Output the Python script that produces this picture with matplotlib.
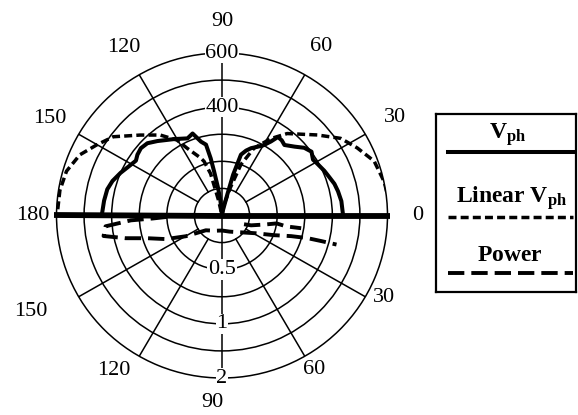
import numpy as np
import matplotlib
matplotlib.use('Agg')
import matplotlib.pyplot as plt

plt.rcParams['font.family'] = ['Liberation Serif', 'DejaVu Serif']
plt.rcParams['mathtext.fontset'] = 'custom'
plt.rcParams['mathtext.rm'] = 'Liberation Serif'
plt.rcParams['mathtext.bf'] = 'Liberation Serif:bold'
plt.rcParams['mathtext.it'] = 'Liberation Serif:italic'

# upper half: phase velocity (V), angle in degrees
vph_angle = [0, 7, 12, 16, 20, 24, 30, 32, 36, 40, 44, 49, 52, 55, 57, 60, 63, 67, 70, 73,
             75, 76, 80, 85, 90, 95, 96, 98, 100, 101, 102.5, 105.6, 109.4, 113.7, 121.5,
             130.4, 135.4, 139.8, 143.8, 147, 151.6, 156.8, 162.2, 166.9, 172.7, 180]
vph_volts = [439, 436, 430, 424, 414, 406, 393, 389, 401, 389, 366, 345, 352, 354, 326, 299, 285, 270, 255, 235,
             156, 81, 20, 5, 0, 10, 55, 103, 166, 215, 268, 283, 321, 311, 331,
             361, 380, 385, 380, 372, 383, 400, 417, 427, 431, 436]

lin_angle = [0, 5, 12, 20, 27, 33.5, 40.7, 52, 58, 65, 70, 73.6, 80, 90,
             102.5, 105, 108, 110, 117, 120.4, 127, 135, 143.6, 150.2, 156.5, 163.8, 171, 180]
lin_volts = [606, 608, 601, 587, 550, 516, 456, 384, 335, 274, 200, 107, 40, 0,
             56, 160, 210, 226, 279, 323, 372, 420, 490, 524, 562, 587, 595, 598]

# lower half: power (log scale, 0.5 / 1 / 2), angle measured below the axis
pow_angle = [178.5, 177.5, 176.9, 174.6, 170, 166.5, 162.7, 156.8, 149.7, 137, 115, 90, 65,
             42, 28, 21, 16.9, 15.1, 14.7, 14.5]
pow_value = [0.500, 0.596, 0.787, 1.087, 1.133, 0.868, 0.665, 0.538, 0.423, 0.330, 0.310, 0.303, 0.314,
             0.345, 0.406, 0.505, 0.620, 0.758, 0.908, 1.105]
pow2_angle = [22, 19, 12, 8.4, 9.8, 9.3]
pow2_value = [0.337, 0.368, 0.435, 0.500, 0.566, 0.685]

upper_ticks = [400, 600]
lower_ticks = [0.5, 1, 2]
upper_angles = [0, 30, 60, 90, 120, 150, 180]
lower_angles = [30, 60, 90, 120, 150]


def v_to_r(v):
    return np.asarray(v, dtype=float) / 100.0


def p_to_r(p):
    return 4 + 2 * np.log2(np.asarray(p, dtype=float))


fig = plt.figure(figsize=(5.78, 4.15), dpi=100)
ax = fig.add_axes([56.5 / 578, 37 / 415, 331 / 578, 325 / 415], projection='polar')
ax.set_aspect('auto')
ax.set_ylim(0, 6)
ax.set_yticks(range(1, 6))
ax.set_yticklabels([])
ax.set_xticks([])
ax.yaxis.grid(True, color='black', lw=1.1, ls='-')
ax.xaxis.grid(False)
ax.spines['polar'].set_linewidth(1.1)

# spokes
for a in [30, 60, 120, 150, -30, -60, -120, -150]:
    t = np.deg2rad(a)
    ax.plot([t, t], [1, 6], color='black', lw=1.1, zorder=2)
for a in [90, -90]:
    t = np.deg2rad(a)
    ax.plot([t, t], [0, 6], color='black', lw=1.1, zorder=2)

# thick 0-180 axis
ax.plot([np.pi, np.pi, 0, 0], [6.1, 0, 0, 6.1], color='black', lw=4.2,
        solid_capstyle='butt', zorder=6, clip_on=False)

# curves
ax.plot(np.deg2rad(vph_angle), v_to_r(vph_volts), color='black', lw=2.9, zorder=4)
ax.plot(np.deg2rad(lin_angle), v_to_r(lin_volts), color='black', lw=2.5,
        dashes=(2.3, 1.2), zorder=4)
ax.plot(-np.deg2rad(pow_angle), p_to_r(pow_value), color='black', lw=2.8,
        dashes=(4.2, 1.8), zorder=4)
ax.plot(-np.deg2rad(pow2_angle), p_to_r(pow2_value), color='black', lw=2.8,
        dashes=(4.2, 1.8), zorder=4)

# radial labels
lab_box = dict(facecolor='white', edgecolor='none', pad=0.5)
for v in upper_ticks:
    ax.text(np.pi / 2, v_to_r(v), str(v), ha='center', va='center', fontsize=16,
            bbox=lab_box, zorder=7)
for p in lower_ticks:
    ax.text(-np.pi / 2, p_to_r(p), f'{p:g}', ha='center', va='center', fontsize=16,
            bbox=lab_box, zorder=7)

# angle labels
upper_pos = {0: (0, 7.1), 30: (30, 7.25), 60: (60, 7.2), 90: (90, 7.15),
             120: (120, 7.15), 150: (150, 7.2), 180: (180, 6.85)}
lower_pos = {30: (-27.3, 6.6), 60: (-59.6, 6.6), 90: (-93, 6.9),
             120: (-124.5, 6.95), 150: (-153, 7.8)}
for a in upper_angles:
    t, r = upper_pos[a]
    ax.text(np.deg2rad(t), r, str(a), ha='center', va='center', fontsize=16, clip_on=False)
for a in lower_angles:
    t, r = lower_pos[a]
    ax.text(np.deg2rad(t), r, str(a), ha='center', va='center', fontsize=16, clip_on=False)

# legend box
lg = fig.add_axes([436 / 578, (415 - 292) / 415, 140 / 578, 178 / 415])
lg.set_xlim(0, 140)
lg.set_ylim(178, 0)
lg.set_xticks([])
lg.set_yticks([])
for s in lg.spines.values():
    s.set_linewidth(1.6)
lg.text(72, 21, r'$\mathbf{V_{ph}}$', ha='center', va='center', fontsize=17)
lg.plot([12, 139], [38, 38], color='black', lw=2.9)
lg.text(76, 84, r'$\mathbf{Linear\ V_{ph}}$', ha='center', va='center', fontsize=17)
lg.plot([12, 137], [103, 103], color='black', lw=2.5, dashes=(2.3, 1.2))
lg.text(74, 141, r'$\mathbf{Power}$', ha='center', va='center', fontsize=17)
lg.plot([12, 137], [159, 159], color='black', lw=2.8, dashes=(4.2, 1.8))

fig.savefig('out.png', dpi=100)
